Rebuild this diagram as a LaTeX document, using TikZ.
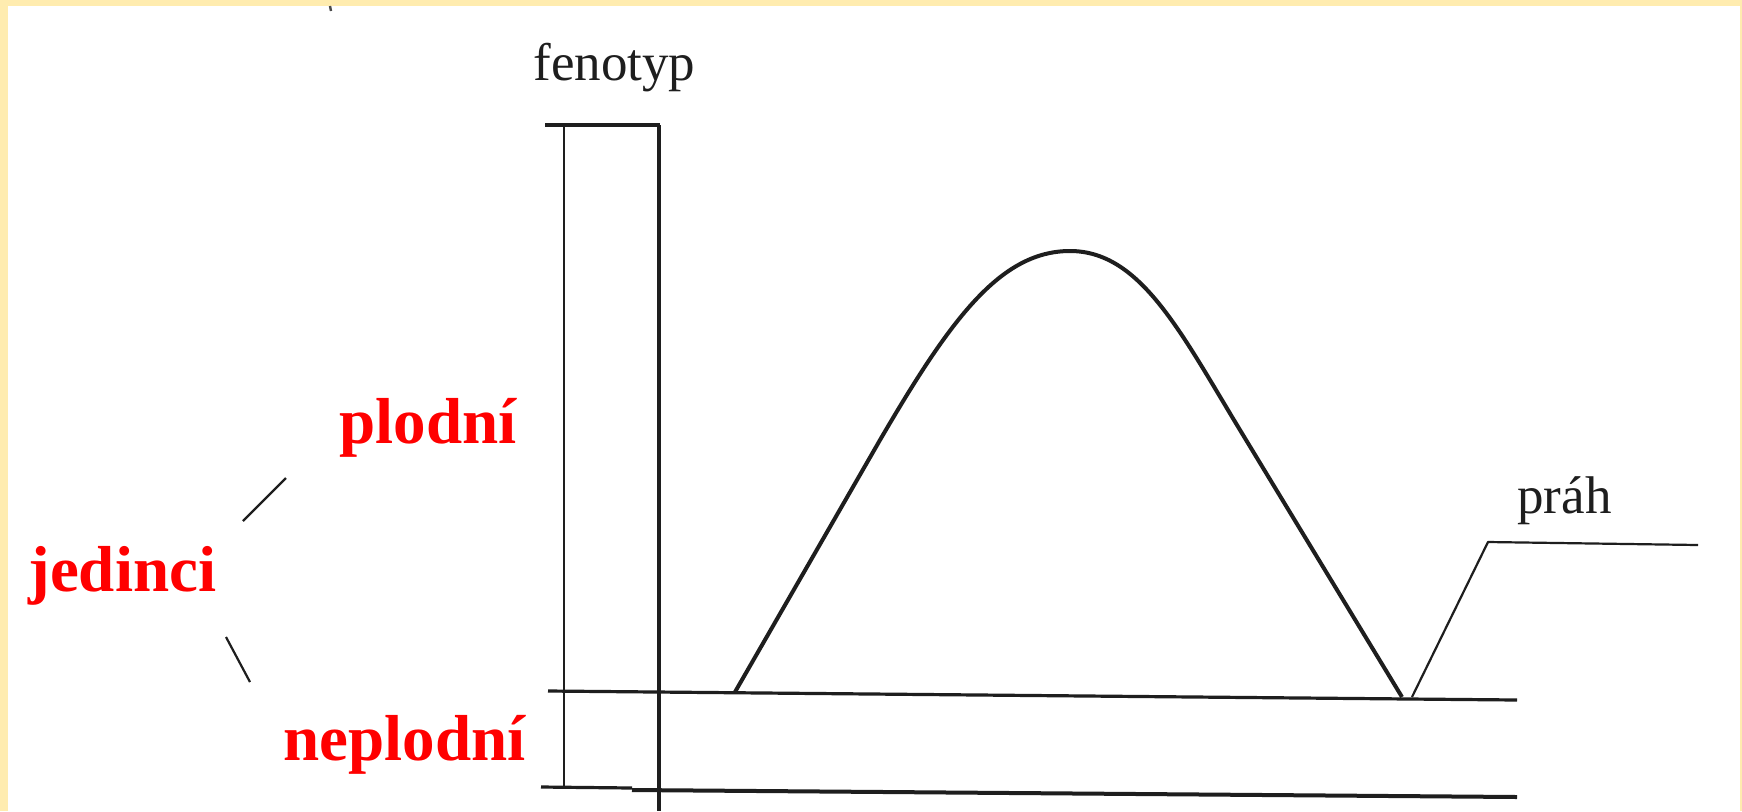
\documentclass[tikz,border=0pt]{standalone}
\usepackage{fontspec}
\setmainfont{Liberation Serif}
\definecolor{framebg}{RGB}{255,236,175}
\definecolor{ink}{RGB}{30,30,30}
\definecolor{lab}{RGB}{255,0,0}
\begin{document}
\begin{tikzpicture}[x=0.5pt,y=-0.5pt,
  redlab/.style={text=lab, font=\fontsize{32.5}{36}\selectfont\bfseries, anchor=base west, inner sep=0},
  blklab/.style={text=ink, font=\fontsize{26.5}{30}\selectfont, anchor=base west, inner sep=0},
  lnthin/.style={draw=ink, line width=1.1pt},
  lnmid/.style={draw=ink, line width=1.6pt},
  lnthick/.style={draw=ink, line width=2pt},
  line join=round]
\useasboundingbox (0,0) rectangle (1742,811);
\fill[framebg] (0,0) rectangle (1742,811);
\fill[white] (8,6) rectangle (1740,811);
% small scan mark
\draw[ink!80, line width=1.2pt] (330,6) -- (331,11);
% labels
\node[blklab] (fen) at (533,80) {fenotyp};
\node[blklab] (prah) at (1517,513) {práh};
\node[redlab] (plod) at (339,443) {plodní};
\node[redlab] (jed) at (28,591) {jedinci};
\node[redlab] (neplod) at (283,760) {neplodní};
% axis frame
\coordinate (tl) at (545,125);
\coordinate (tr) at (660,125);
\coordinate (vthinT) at (564,125);
\coordinate (vthinB) at (564,788);
\coordinate (vthkT) at (659,125);
\coordinate (vthkB) at (659,811);
\draw[lnmid] (tl) -- (tr);
\draw[lnthin] (vthinT) -- (vthinB);
\draw[lnthick] (vthkT) -- (vthkB);
% horizontal lines
\coordinate (midL) at (548,691);
\coordinate (midR) at (1517,700);
\draw[lnmid] (midL) -- (midR);
\coordinate (botL) at (541,787);
\coordinate (botS) at (632,788);
\coordinate (botS2) at (632,790);
\coordinate (botR) at (1517,797);
\draw[lnmid] (botL) -- (botS);
\draw[lnthick] (botS2) -- (botR);
% bell curve
\coordinate (cS) at (735,692);
\coordinate (cL) at (880,440);
\coordinate (cTop) at (1070,251);
\coordinate (cR) at (1240,430);
\coordinate (cE) at (1402,697);
\draw[lnthick] (cS) -- (cL) .. controls (950,320) and (1000,251) .. (cTop)
  .. controls (1140,251) and (1180,331) .. (cR) -- (cE);
% threshold
\coordinate (t1) at (1412,697);
\coordinate (t2) at (1488,542);
\coordinate (t3) at (1698,545);
\draw[lnthin] (t1) -- (t2) -- (t3);
% jedinci branches
\coordinate (u1) at (243,521);
\coordinate (u2) at (286,478);
\coordinate (d1) at (226,637);
\coordinate (d2) at (250,682);
\draw[lnthin] (u1) -- (u2);
\draw[lnthin] (d1) -- (d2);
\end{tikzpicture}
\end{document}
